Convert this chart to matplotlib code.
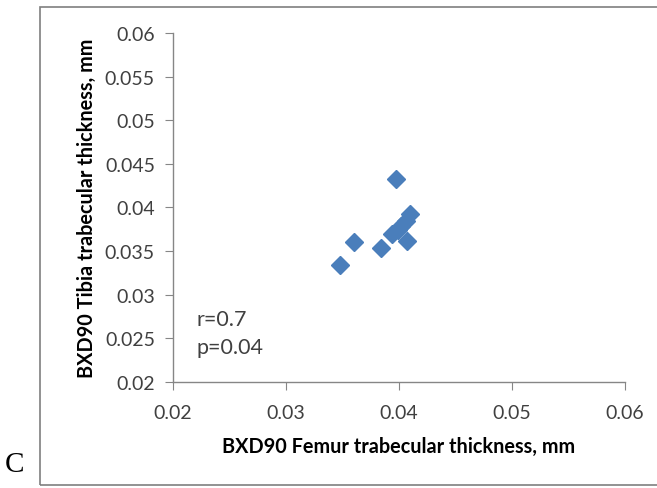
import matplotlib
matplotlib.use("Agg")
from matplotlib import pyplot as plt
from matplotlib.patches import Rectangle

femur = [0.0348, 0.0360, 0.0384, 0.0394, 0.0399, 0.0402, 0.0406, 0.0410, 0.0407, 0.0397]
tibia = [0.0334, 0.0360, 0.0354, 0.0370, 0.0374, 0.0379, 0.0384, 0.0393, 0.0362, 0.0433]
x_ticks = [0.02, 0.03, 0.04, 0.05, 0.06]
y_ticks = [0.02, 0.025, 0.03, 0.035, 0.04, 0.045, 0.05, 0.055, 0.06]

plt.rcParams["font.family"] = ["Lato", "DejaVu Sans"]

fig = plt.figure(figsize=(6.57, 4.89), dpi=100)
ax = fig.add_axes([0.2633, 0.2168, 0.688, 0.7137])

ax.plot(femur, tibia, linestyle="none", marker="D", markersize=9.5,
        color="#4A7EBB", markeredgecolor="#4A7EBB")

ax.set_xlim(0.02, 0.06)
ax.set_ylim(0.02, 0.06)
ax.set_xticks(x_ticks)
ax.set_xticklabels([f"{v:g}" for v in x_ticks])
ax.set_yticks(y_ticks)
ax.set_yticklabels([f"{v:g}" for v in y_ticks])

for side in ("top", "right"):
    ax.spines[side].set_visible(False)
for side in ("left", "bottom"):
    ax.spines[side].set_color("#868686")
    ax.spines[side].set_linewidth(1.0)
ax.tick_params(direction="out", length=5.5, color="#868686", labelsize=14,
               labelcolor="#404040")
ax.tick_params(axis="x", pad=10)
ax.tick_params(axis="y", pad=7.5)

ax.set_xlabel("BXD90 Femur trabecular thickness, mm", fontsize=14.3,
              fontweight="bold", labelpad=11)
ax.set_ylabel("BXD90 Tibia trabecular thickness, mm", fontsize=14.3,
              fontweight="bold", labelpad=6)

ax.text(0.0221, 0.0272, "r=0.7", fontsize=15.5, color="#404040", va="center")
ax.text(0.0221, 0.0240, "p=0.04", fontsize=15.5, color="#404040", va="center")

# outer frame and panel letter
fig.patches.append(Rectangle((40 / 657, 3 / 489), 1.0, 478 / 489,
                             transform=fig.transFigure, fill=False,
                             edgecolor="#7F7F7F", linewidth=1.2))
fig.text(5 / 657, 24 / 489, "C", fontsize=21, family="Liberation Serif",
         va="center", ha="left")

fig.savefig("out.png", dpi=100)
